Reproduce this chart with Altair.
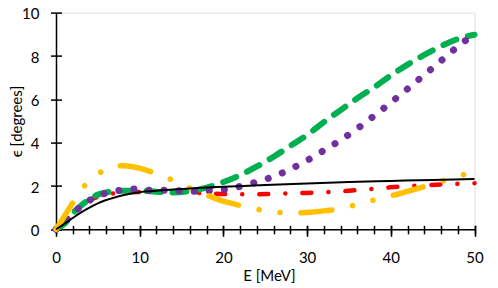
import altair as alt
import pandas as pd

# ---- data ----
E_black = [0, 1, 2, 3, 4, 5, 6, 7, 8, 10, 12, 14, 16, 18, 20, 25, 30, 35, 40, 45, 50]
eps_black = [0, 0.25, 0.52, 0.78, 1.0, 1.2, 1.35, 1.47, 1.57, 1.71, 1.78, 1.84, 1.88, 1.93,
             1.96, 2.04, 2.11, 2.18, 2.23, 2.28, 2.32]

E_green = [0, 1, 2, 3, 4, 5, 6, 8, 10, 12, 14, 16, 18, 20, 22, 24, 26, 28, 30, 32, 34, 36,
           38, 40, 42, 44, 46, 48, 50]
eps_green = [0, 0.25, 0.72, 1.1, 1.38, 1.6, 1.7, 1.78, 1.78, 1.73, 1.7, 1.77, 1.92, 2.18,
             2.5, 2.9, 3.35, 3.85, 4.35, 4.95, 5.5, 6.05, 6.55, 7.1, 7.6, 8.05, 8.45, 8.78, 8.98]

E_purple = [0, 1.5, 2.7, 4.2, 5.9, 7.7, 9.5, 11.2, 13.1, 15.0, 16.9, 18.7, 20.5, 22.3, 24.0,
            25.8, 27.5, 29.0, 30.7, 32.3, 33.9, 35.4, 36.9, 38.3, 39.8, 41.2, 42.6, 44.0,
            45.4, 46.8, 48.2, 50]
eps_purple = [0, 0.51, 0.97, 1.38, 1.66, 1.8, 1.86, 1.8, 1.8, 1.77, 1.75, 1.8, 1.86, 2.01,
              2.18, 2.41, 2.68, 2.97, 3.33, 3.71, 4.09, 4.48, 4.91, 5.33, 5.78, 6.23, 6.67,
              7.13, 7.58, 8.04, 8.5, 9.0]

E_red = [0, 1, 2, 3, 4, 5, 6, 8, 10, 12, 14, 16, 18, 20, 22, 24, 26, 28, 30, 32, 34, 36, 38,
         40, 42, 44, 46, 48, 50]
eps_red = [0, 0.4, 0.8, 1.1, 1.35, 1.5, 1.6, 1.69, 1.72, 1.72, 1.7, 1.68, 1.66, 1.63, 1.62,
           1.62, 1.63, 1.66, 1.68, 1.71, 1.75, 1.81, 1.87, 1.94, 1.99, 2.03, 2.07, 2.1, 2.13]

E_orange = [0, 1, 2, 3, 4, 5, 6, 7, 8, 9, 10, 11, 12, 13, 14, 15, 16, 17, 18, 19, 20, 21, 22,
            23, 24, 25, 26, 27, 28, 29, 30, 32, 34, 35, 36, 37, 38, 39, 40, 41, 42, 43, 44, 45,
            46, 47, 48, 49, 50]
eps_orange = [0, 0.6, 1.22, 1.8, 2.25, 2.55, 2.78, 2.9, 2.93, 2.9, 2.82, 2.7, 2.58, 2.42, 2.25,
              2.07, 1.9, 1.73, 1.58, 1.43, 1.3, 1.2, 1.1, 1.02, 0.93, 0.85, 0.8, 0.77, 0.76,
              0.76, 0.78, 0.85, 0.95, 1.05, 1.15, 1.25, 1.35, 1.45, 1.55, 1.64, 1.75, 1.86,
              1.97, 2.08, 2.2, 2.32, 2.45, 2.55, 2.66]

x_major = [0, 10, 20, 30, 40, 50]
x_minor = [0, 2, 4, 6, 8, 10, 12, 14, 16, 18, 20, 22, 24, 26, 28, 30, 32, 34, 36, 38, 40,
           42, 44, 46, 48, 50]
y_ticks = [0, 2, 4, 6, 8, 10]

FONT = "Lato"
FS = 15
W, H = 418.5, 216.7

xscale = alt.Scale(domain=[0, 50], nice=False, zero=False)
yscale = alt.Scale(domain=[0, 10], nice=False, zero=False)

x_axis_main = alt.Axis(
    orient="bottom", values=x_major, grid=False, ticks=False, tickSize=0,
    domain=True, domainColor="black", domainWidth=1.5, labelFlush=False,
    labelFont=FONT, labelFontSize=FS, labelColor="black", labelPadding=28.5,
    labelBaseline="middle",
    title="E [MeV]", titleFont=FONT, titleFontSize=FS, titleFontWeight="normal",
    titleColor="black", titleX=213, titleY=46, titleAlign="center",
    titleBaseline="middle", titleAnchor="start",
)
y_axis_main = alt.Axis(
    orient="left", values=y_ticks, grid=False, ticks=False, tickSize=0,
    domain=True, domainColor="black", domainWidth=1.5, labelFlush=False,
    labelFont=FONT, labelFontSize=FS, labelColor="black", labelPadding=17,
    labelOffset=1.2,
    title="ϵ [degrees]", titleFont=FONT, titleFontSize=FS, titleFontWeight="normal",
    titleColor="black", titleX=-40, titleY=H / 2, titleAngle=270, titleAlign="center",
    titleBaseline="middle", titleAnchor="start",
)


def series(E, eps, color, width, dash, cap="round"):
    df = pd.DataFrame({"E": E, "eps": eps})
    kw = dict(color=color, strokeWidth=width, strokeCap=cap, interpolate="monotone")
    if dash:
        kw["strokeDash"] = dash
    return alt.Chart(df).mark_line(**kw).encode(
        x=alt.X("E:Q", scale=xscale, axis=x_axis_main),
        y=alt.Y("eps:Q", scale=yscale, axis=y_axis_main),
    )


lines = alt.layer(
    series(E_red, eps_red, "#FF0000", 4.5, [9, 17, 0.1, 17]),
    series(E_green, eps_green, "#00B050", 6, [14, 12]),
    series(E_purple, eps_purple, "#7030A0", 7, [0.1, 15]),
    series(E_orange, eps_orange, "#FFC000", 5.5, [31, 21, 0.1, 21, 0.1, 21]),
    series(E_black, eps_black, "black", 2, None, "butt"),
)

tick_x = pd.DataFrame({"v": [0, 50]})
tick_y = pd.DataFrame({"v": [0, 10]})

xmajor_layer = alt.Chart(tick_x).mark_point(opacity=0).encode(
    x=alt.X("v:Q", scale=alt.Scale(domain=[0, 50], nice=False, zero=False),
            axis=alt.Axis(orient="bottom", values=x_major, labels=False, domain=False,
                          grid=False, ticks=True, tickSize=11, offset=-4,
                          tickColor="black", tickWidth=1.5, title=None))
)
xminor_layer = alt.Chart(tick_x).mark_point(opacity=0).encode(
    x=alt.X("v:Q", scale=alt.Scale(domain=[0, 50], nice=False, zero=False),
            axis=alt.Axis(orient="bottom", values=x_minor, labels=False, domain=False,
                          grid=False, ticks=True, tickSize=8.5, offset=-4,
                          tickColor="black", tickWidth=1.5, title=None))
)
y_layer = alt.Chart(tick_y).mark_point(opacity=0).encode(
    y=alt.Y("v:Q", scale=alt.Scale(domain=[0, 10], nice=False, zero=False),
            axis=alt.Axis(orient="left", values=y_ticks, labels=False, domain=False,
                          grid=False, ticks=True, tickSize=11, offset=-5.5,
                          tickColor="black", tickWidth=1.5, title=None))
)

chart = alt.layer(lines, xmajor_layer, xminor_layer, y_layer).resolve_scale(
    x="independent", y="independent"
).properties(
    width=W, height=H,
    autosize=alt.AutoSizeParams(type="none"),
    padding={"left": 48, "top": 4.6, "right": 15, "bottom": 56},
).configure_view(stroke=None).configure(background="white")

chart.save("out.html", embed_options={"renderer": "svg", "actions": False})
